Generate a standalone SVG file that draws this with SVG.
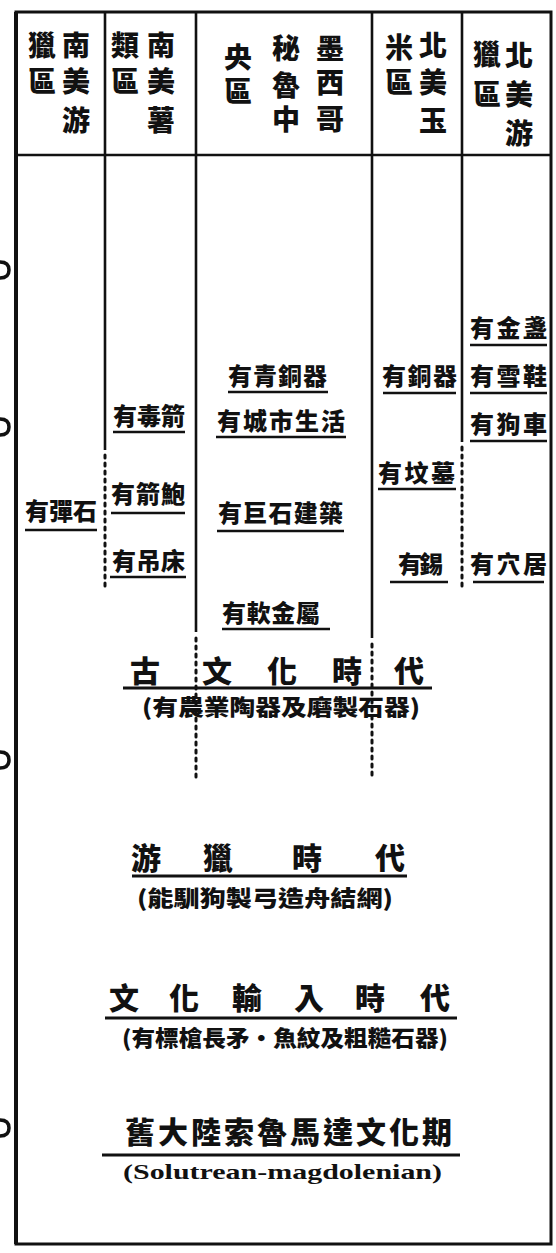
<svg xmlns="http://www.w3.org/2000/svg" width="556" height="1253" viewBox="0 0 556 1253">
<style>
.frame{fill:none;stroke:#111;stroke-width:3}
.div{stroke:#111;stroke-width:2.6;fill:none}
.dot{stroke:#111;stroke-width:3;fill:none;stroke-dasharray:3 5;stroke-linecap:round}
.ul{stroke:#111;stroke-width:2.4}
.tul{stroke:#111;stroke-width:3}
.hd{font-family:"Noto Sans CJK TC","Noto Sans CJK SC",sans-serif;font-weight:900;font-size:28px;fill:#111;text-anchor:middle}
.lb{font-family:"Noto Sans CJK TC","Noto Sans CJK SC",sans-serif;font-weight:900;font-size:24px;fill:#111}
.tt{font-family:"Noto Sans CJK TC","Noto Sans CJK SC",sans-serif;font-weight:900;font-size:30px;fill:#111}
.st{font-family:"Noto Sans CJK TC","Noto Sans CJK SC",sans-serif;font-weight:900;font-size:22px;fill:#111}
.en{font-family:"Liberation Serif",serif;font-weight:700;font-size:22px;fill:#111}
.mk{fill:none;stroke:#111;stroke-width:3.5}
</style>
<rect width="556" height="1253" fill="#fff"/>
<g id="frame">
<rect class="frame" x="16" y="12" width="535" height="1232"/>
<line class="div" x1="16" y1="12" x2="16" y2="1244" style="stroke-width:4"/>
<line class="div" x1="16" y1="155" x2="551" y2="155"/>
</g>
<g id="margin-marks">
<path class="mk" d="M0,262 Q9,262 9,270 Q9,278 0,278"/>
<path class="mk" d="M0,419 Q9,419 9,427 Q9,435 0,435"/>
<path class="mk" d="M0,752 Q9,752 9,760 Q9,768 0,768"/>
<path class="mk" d="M0,1120 Q9,1120 9,1128 Q9,1136 0,1136"/>
</g>
<g id="connectors">
<line class="div" x1="105" y1="12" x2="105" y2="450"/>
<line class="dot" x1="105" y1="455" x2="105" y2="588"/>
<line class="div" x1="196" y1="12" x2="196" y2="632"/>
<line class="dot" x1="196" y1="638" x2="196" y2="778"/>
<line class="div" x1="372" y1="12" x2="372" y2="638"/>
<line class="dot" x1="372" y1="644" x2="372" y2="778"/>
<line class="div" x1="462" y1="12" x2="462" y2="442"/>
<line class="dot" x1="462" y1="447" x2="462" y2="590"/>
</g>
<g id="header-south-america-hunting">
<text class="hd" x="76 76 76" y="56 92 131">南美游</text>
<text class="hd" x="42 42" y="56 92">獵區</text>
</g>
<g id="header-south-america-tuber">
<text class="hd" x="161 161 161" y="56 92 131">南美薯</text>
<text class="hd" x="125 125" y="56 92">類區</text>
</g>
<g id="header-mexico-peru">
<text class="hd" x="330 330 330" y="59 93 130">墨西哥</text>
<text class="hd" x="286 286 286" y="59 96 130">秘魯中</text>
<text class="hd" x="238 238" y="68 102">央區</text>
</g>
<g id="header-north-america-maize">
<text class="hd" x="433 433 433" y="56 93 131">北美玉</text>
<text class="hd" x="399 399" y="58 93">米區</text>
</g>
<g id="header-north-america-hunting">
<text class="hd" x="519 519 519" y="66 105 144">北美游</text>
<text class="hd" x="487 487" y="65 105">獵區</text>
</g>
<g id="col1-labels">
<text class="lb" x="25" y="520" textLength="72">有彈石</text>
<line class="ul" x1="25" y1="530" x2="97" y2="530"/>
</g>
<g id="col2-labels">
<text class="lb" x="113" y="425" textLength="72">有毒箭</text>
<line class="ul" x1="113" y1="432" x2="185" y2="432"/>
<text class="lb" x="111" y="503" textLength="74">有箭鮑</text>
<line class="ul" x1="111" y1="513" x2="185" y2="513"/>
<text class="lb" x="112" y="570" textLength="73">有吊床</text>
<line class="ul" x1="110" y1="577" x2="186" y2="577"/>
</g>
<g id="col3-labels">
<text class="lb" x="228" y="385" textLength="99">有青銅器</text>
<line class="ul" x1="228" y1="392" x2="328" y2="392"/>
<text class="lb" x="217" y="430" textLength="128">有城市生活</text>
<line class="ul" x1="216" y1="437" x2="346" y2="437"/>
<text class="lb" x="218" y="522" textLength="125">有巨石建築</text>
<line class="ul" x1="217" y1="531" x2="344" y2="531"/>
<text class="lb" x="222" y="622" textLength="98">有軟金屬</text>
<line class="ul" x1="222" y1="629" x2="330" y2="629"/>
</g>
<g id="col4-labels">
<text class="lb" x="382" y="385" textLength="75">有銅器</text>
<line class="ul" x1="383" y1="393" x2="456" y2="393"/>
<text class="lb" x="378" y="482" textLength="77">有坟墓</text>
<line class="ul" x1="378" y1="489" x2="456" y2="489"/>
<text class="lb" x="398" y="573" textLength="45">有錫</text>
<line class="ul" x1="390" y1="582" x2="448" y2="582"/>
</g>
<g id="col5-labels">
<text class="lb" x="470" y="337" textLength="77">有金盞</text>
<line class="ul" x1="470" y1="345" x2="547" y2="345"/>
<text class="lb" x="470" y="385" textLength="77">有雪鞋</text>
<line class="ul" x1="470" y1="393" x2="547" y2="393"/>
<text class="lb" x="470" y="433" textLength="77">有狗車</text>
<line class="ul" x1="470" y1="441" x2="547" y2="441"/>
<text class="lb" x="470" y="573" textLength="77">有穴居</text>
<line class="ul" x1="473" y1="582" x2="544" y2="582"/>
</g>
<g id="era-ancient-culture">
<text class="tt" x="130 202 267 332 394" y="682">古文化時代</text>
<line class="tul" x1="123" y1="688" x2="432" y2="688"/>
<text class="st" x="142" y="715" textLength="278" lengthAdjust="spacingAndGlyphs">(有農業陶器及磨製石器)</text>
</g>
<g id="era-hunting">
<text class="tt" x="131 203 292 375" y="869">游獵時代</text>
<line class="tul" x1="132" y1="876" x2="407" y2="876"/>
<text class="st" x="137" y="906" textLength="256" lengthAdjust="spacingAndGlyphs">(能馴狗製弓造舟結網)</text>
</g>
<g id="era-culture-import">
<text class="tt" x="109 169 232 294 355 420" y="1009">文化輸入時代</text>
<line class="tul" x1="105" y1="1018" x2="457" y2="1018"/>
<text class="st" x="122" y="1046" textLength="326" lengthAdjust="spacingAndGlyphs">(有標槍長矛·魚紋及粗糙石器)</text>
</g>
<g id="era-solutrean">
<text class="tt" x="125" y="1143" textLength="327">舊大陸索魯馬達文化期</text>
<line class="tul" x1="102" y1="1155" x2="460" y2="1155"/>
<text class="en" x="123" y="1179" textLength="319" lengthAdjust="spacingAndGlyphs">(Solutrean-magdolenian)</text>
</g>
</svg>
